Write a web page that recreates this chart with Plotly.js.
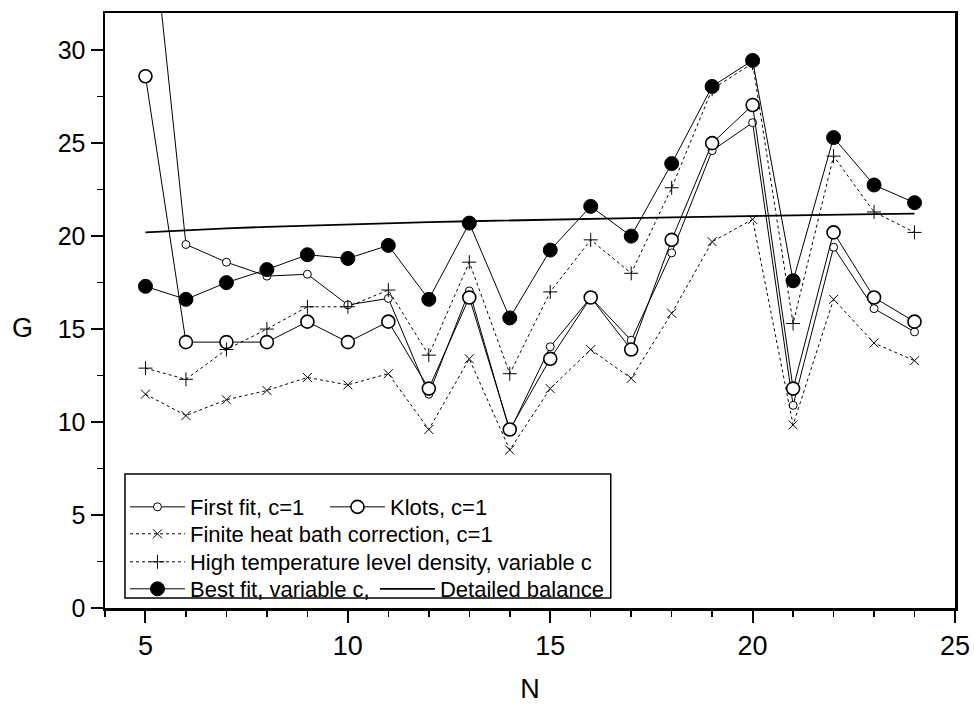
<!DOCTYPE html>
<html>
<head>
<meta charset="utf-8">
<script src="https://cdn.plot.ly/plotly-3.0.1.min.js"></script>
<style>html,body{margin:0;padding:0;background:#fff;}#chart{width:974px;height:704px;}</style>
</head>
<body>
<div id="chart"></div>
<script>
// ---- data ----
var N = [5, 6, 7, 8, 9, 10, 11, 12, 13, 14, 15, 16, 17, 18, 19, 20, 21, 22, 23, 24];
var firstFit = [40.3, 19.55, 18.6, 17.85, 17.95, 16.3, 16.65, 11.5, 17.05, 9.5, 14.05, 16.7, 14.4, 19.1, 24.6, 26.1, 10.9, 19.4, 16.1, 14.85];
var klots = [28.6, 14.3, 14.3, 14.3, 15.4, 14.3, 15.4, 11.8, 16.7, 9.6, 13.4, 16.7, 13.9, 19.8, 25.0, 27.05, 11.8, 20.2, 16.7, 15.4];
var finiteBath = [11.5, 10.35, 11.2, 11.7, 12.4, 12.0, 12.6, 9.6, 13.4, 8.5, 11.8, 13.9, 12.35, 15.85, 19.7, 20.9, 9.85, 16.6, 14.25, 13.3];
var highTemp = [12.9, 12.3, 13.9, 15.0, 16.2, 16.2, 17.1, 13.6, 18.6, 12.6, 17.0, 19.8, 18.0, 22.6, 27.9, 29.3, 15.3, 24.3, 21.3, 20.2];
var bestFit = [17.3, 16.6, 17.5, 18.2, 19.0, 18.8, 19.5, 16.6, 20.7, 15.6, 19.25, 21.6, 20.0, 23.9, 28.05, 29.45, 17.6, 25.3, 22.75, 21.8];
var detailed = [20.2, 20.32, 20.42, 20.5, 20.57, 20.64, 20.7, 20.75, 20.8, 20.85, 20.89, 20.93, 20.97, 21.01, 21.05, 21.09, 21.12, 21.15, 21.18, 21.21];
var names = ['First fit, c=1', 'Klots, c=1', 'Finite heat bath correction, c=1',
             'High temperature level density, variable c', 'Best fit, variable c,', 'Detailed balance'];
var xTicks = [5, 10, 15, 20, 25];
var yTicks = [0, 5, 10, 15, 20, 25, 30];
var xRange = [4, 25];
var yRange = [0, 32];

var traces = [
  {x: N, y: firstFit, name: names[0], mode: 'lines+markers', legend: 'legend', legendwidth: 130,
   line: {color: '#000', width: 1},
   marker: {symbol: 'circle', size: 8, color: '#fff', line: {color: '#000', width: 1}}},
  {x: N, y: klots, name: names[1], mode: 'lines+markers', legend: 'legend',
   line: {color: '#000', width: 1},
   marker: {symbol: 'circle', size: 13, color: '#fff', line: {color: '#000', width: 1.6}}},
  {x: N, y: finiteBath, name: names[2], mode: 'lines+markers', legend: 'legend2',
   line: {color: '#000', width: 1, dash: 'dot'},
   marker: {symbol: 'x-thin', size: 9, color: '#000', line: {color: '#000', width: 1}}},
  {x: N, y: highTemp, name: names[3], mode: 'lines+markers', legend: 'legend3',
   line: {color: '#000', width: 1, dash: 'dot'},
   marker: {symbol: 'cross-thin', size: 10, color: '#000', line: {color: '#000', width: 1}}},
  {x: N, y: bestFit, name: names[4], mode: 'lines+markers', legend: 'legend4', legendwidth: 180,
   line: {color: '#000', width: 1},
   marker: {symbol: 'circle', size: 14, color: '#000', line: {color: '#000', width: 1}}},
  {x: N, y: detailed, name: names[5], mode: 'lines', legend: 'legend4',
   line: {color: '#000', width: 1.8}}
];

var axisFont = {family: 'Liberation Sans, Arial, sans-serif', size: 25, color: '#000'};
var narrowFont = {family: 'Liberation Sans Narrow, Liberation Sans, Arial Narrow, sans-serif', size: 27, color: '#000'};
var gFont = {family: 'Liberation Sans, Arial, sans-serif', size: 27, color: '#000'};
var legFont = {family: 'Liberation Sans, Arial, sans-serif', size: 22, color: '#000'};

function leg(y) {
  return {x: 0.0235, y: y, xanchor: 'left', yanchor: 'middle', orientation: 'h',
          bgcolor: 'rgba(0,0,0,0)', borderwidth: 0, font: legFont, itemwidth: 55,
          traceorder: 'normal'};
}

var layout = {
  width: 974, height: 704,
  margin: {l: 105, r: 19, t: 13, b: 96},
  paper_bgcolor: '#fff', plot_bgcolor: '#fff',
  showlegend: true,
  xaxis: {
    range: xRange, tickvals: xTicks, ticktext: xTicks.map(String),
    ticks: 'outside', ticklen: 12, tickwidth: 2, tickcolor: '#000',
    minor: {dtick: 1, tick0: 0, ticks: 'outside', ticklen: 6, tickwidth: 1.5, tickcolor: '#000'},
    showline: true, linewidth: 2.5, linecolor: '#000', mirror: true,
    showgrid: false, zeroline: false, tickfont: narrowFont,
    title: {text: 'N', font: narrowFont, standoff: 22}
  },
  yaxis: {
    range: yRange, tickvals: yTicks, ticktext: yTicks.map(String),
    ticks: 'outside', ticklen: 12, tickwidth: 2, tickcolor: '#000',
    minor: {dtick: 2.5, tick0: 0, ticks: 'outside', ticklen: 6, tickwidth: 1.5, tickcolor: '#000'},
    showline: true, linewidth: 2.5, linecolor: '#000', mirror: true,
    showgrid: false, zeroline: false, tickfont: axisFont
  },
  xaxis2: {
    overlaying: 'x', side: 'top', anchor: 'y', range: xRange, dtick: 1, tick0: 0,
    ticks: 'inside', ticklen: 5, tickwidth: 1.5, tickcolor: '#000',
    showticklabels: false, showline: false, showgrid: false, zeroline: false
  },
  yaxis2: {
    overlaying: 'y', side: 'right', anchor: 'x', range: yRange, dtick: 2.5, tick0: 0,
    ticks: 'inside', ticklen: 5, tickwidth: 1.5, tickcolor: '#000',
    showticklabels: false, showline: false, showgrid: false, zeroline: false
  },
  legend: leg(0.1697),
  legend2: leg(0.1244),
  legend3: leg(0.0773),
  legend4: leg(0.0319),
  shapes: [
    {type: 'rect', xref: 'paper', yref: 'paper', x0: 0.0235, x1: 0.595, y0: 0.0168, y1: 0.2252,
     line: {color: '#000', width: 1.5}, fillcolor: 'rgba(0,0,0,0)'}
  ],
  annotations: [
    {text: 'G', xref: 'paper', yref: 'paper', x: -0.0976, y: 0.4706, xanchor: 'center', yanchor: 'middle',
     showarrow: false, font: gFont}
  ]
};

Plotly.newPlot('chart', traces, layout, {displayModeBar: false, staticPlot: true});
</script>
</body>
</html>
